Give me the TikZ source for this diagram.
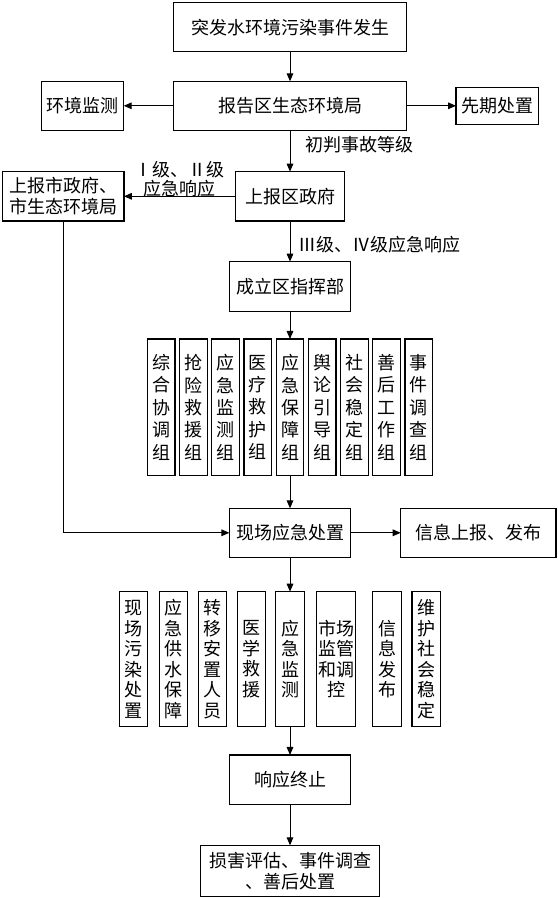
\documentclass[tikz,border=0pt]{standalone}
\usepackage{fontspec}
\setmainfont{Noto Sans CJK SC}
\usetikzlibrary{arrows.meta,positioning}

\begin{document}
\begin{tikzpicture}[font=\fontsize{13.5}{16}\selectfont,
	box/.style={draw, line width=0.9pt, inner sep=0pt, outer sep=0pt, align=center, minimum height=36.75pt},
	grp/.style={box, minimum width=20.8pt, minimum height=102.5pt, font=\fontsize{13.5}{16.8}\selectfont},
	sub/.style={box, minimum width=21.3pt, minimum height=101.25pt, font=\fontsize{13.5}{15.4}\selectfont},
	arr/.style={-{Triangle[length=6pt,width=5pt]}, line width=0.75pt},
	lbl/.style={inner sep=0pt}]
	\useasboundingbox (0,0) rectangle (417.75pt,-673.5pt);
	% main column
	\node[box, minimum width=175pt] (occur) at (217.5pt,-20.4pt) {突发水环境污染事件发生};
	\node[box, minimum width=175pt, below=22.2pt of occur] (report) {报告区生态环境局};
	\node[box, minimum width=61.8pt, left=37.2pt of report] (monitor) {环境监测};
	\node[box, minimum width=61.7pt, minimum height=27.5pt, right=37pt of report] (prelim) {先期处置};
	\node[box, minimum width=81.5pt, minimum height=37pt, below=31pt of report] (dgov) {上报区政府};
	\node[box, minimum width=91pt, minimum height=37pt, left=83.8pt of dgov] (city) {上报市政府、\\市生态环境局};
	\node[box, minimum width=91pt, minimum height=37.5pt, below=30.5pt of dgov] (hq) {成立区指挥部};
	% working groups
	\node[grp, below=20.5pt of hq] (g5) {应\\急\\保\\障\\组};
	\node[grp, left=3.35pt of g5] (g4) {医\\疗\\救\\护\\组};
	\node[grp, left=3.35pt of g4] (g3) {应\\急\\监\\测\\组};
	\node[grp, left=3.35pt of g3] (g2) {抢\\险\\救\\援\\组};
	\node[grp, left=3.35pt of g2] (g1) {综\\合\\协\\调\\组};
	\node[grp, right=3.35pt of g5] (g6) {舆\\论\\引\\导\\组};
	\node[grp, right=3.35pt of g6] (g7) {社\\会\\稳\\定\\组};
	\node[grp, right=3.35pt of g7] (g8) {善\\后\\工\\作\\组};
	\node[grp, right=3.35pt of g8] (g9) {事\\件\\调\\查\\组};
	\node[box, minimum width=91pt, below=24.5pt of g5] (site) {现场应急处置};
	\node[box, minimum width=116.5pt, right=37.5pt of site] (info) {信息上报、发布};
	% on-site measures
	\node[sub, below=25.8pt of site] (h5) {应\\急\\监\\测};
	\node[sub, left=7.5pt of h5] (h4) {医\\学\\救\\援};
	\node[sub, left=8pt of h4] (h3) {转\\移\\安\\置\\人\\员};
	\node[sub, left=8pt of h3] (h2) {应\\急\\供\\水\\保\\障};
	\node[sub, left=8.7pt of h2] (h1) {现\\场\\污\\染\\处\\置};
	\node[sub, minimum width=28.7pt, right=9.5pt of h5] (h6) {市场\\监管\\和调\\控};
	\node[sub, right=13.3pt of h6] (h7) {信\\息\\发\\布};
	\node[sub, right=8pt of h7] (h8) {维\\护\\社\\会\\稳\\定};
	\node[box, minimum width=91pt, minimum height=37pt, below=21.2pt of h5] (stop) {响应终止};
	\node[box, minimum width=134pt, minimum height=38.5pt, below=30.75pt of stop] (assess) {损害评估、事件调查\\、善后处置};
	% connectors
	\draw[arr] (occur) -- (report);
	\draw[arr] (report) -- (monitor);
	\draw[arr] (report) -- (prelim);
	\draw[arr] (report) -- node[lbl, pos=0.35, right=11pt] {初判事故等级} (dgov);
	\draw[arr] (dgov) -- node[lbl, above=-1.2pt, align=center, font=\fontsize{13.5}{14.5}\selectfont] {Ⅰ级、Ⅱ级\\应急响应} (city);
	\draw[arr] (dgov) -- node[lbl, pos=0.59, right=6pt] {Ⅲ级、Ⅳ级应急响应} (hq);
	\draw[arr] (hq) -- (g5);
	\draw[arr] (g5) -- (site);
	\draw[arr] (city.south) |- (site.west);
	\draw[arr] (site) -- (info);
	\draw[arr] (site) -- (h5);
	\draw[arr] (h5) -- (stop);
	\draw[arr] (stop) -- (assess);
\end{tikzpicture}
\end{document}
